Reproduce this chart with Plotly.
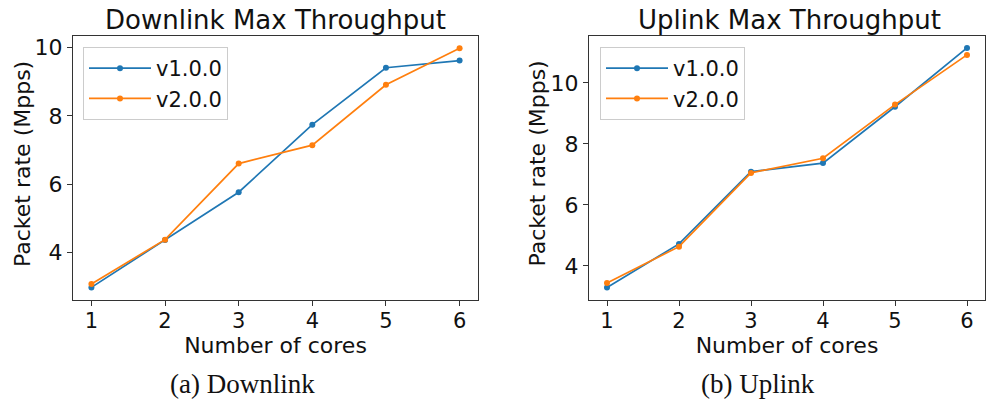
import plotly.graph_objects as go

cores = [1, 2, 3, 4, 5, 6]
down_v1 = [2.97, 4.36, 5.76, 7.74, 9.41, 9.62]
down_v2 = [3.07, 4.37, 6.60, 7.14, 8.91, 9.98]
up_v1 = [3.29, 4.72, 7.09, 7.37, 9.22, 11.15]
up_v2 = [3.44, 4.63, 7.05, 7.53, 9.29, 10.92]
series_names = ["v1.0.0", "v2.0.0"]
colors = ["#1f77b4", "#ff7f0e"]
titles = ["Downlink Max Throughput", "Uplink Max Throughput"]
captions = ["(a) Downlink", "(b) Uplink"]
x_title = "Number of cores"
y_title = "Packet rate (Mpps)"
x_ticks = [1, 2, 3, 4, 5, 6]
y_ticks = [4, 6, 8, 10]

W, H = 988, 405
fig = go.Figure()

panels = [(down_v1, down_v2, "x", "y", "legend"), (up_v1, up_v2, "x2", "y2", "legend2")]
for v1, v2, xa, ya, lg in panels:
    for vals, name, c in zip([v1, v2], series_names, colors):
        fig.add_trace(go.Scatter(
            x=cores, y=vals, name=name, mode="lines+markers",
            line=dict(color=c, width=1.7), marker=dict(color=c, size=6),
            xaxis=xa, yaxis=ya, legend=lg,
        ))

def px_x(p):
    return p / W

def px_y(p):
    return 1 - p / H

axis_common = dict(
    showgrid=False, zeroline=False, showline=True, mirror=True,
    linecolor="#333333", linewidth=1, ticks="outside", ticklen=5,
    tickwidth=1, tickcolor="#333333",
)
tick_font_x = dict(family="DejaVu Sans", size=21, color="#111111")
tick_font_y = dict(family="DejaVu Sans", size=22, color="#111111")
title_font = dict(family="DejaVu Sans", size=22, color="#111111")
legend_font = dict(family="DejaVu Sans", size=21, color="#111111")

fig.update_layout(
    width=W, height=H, margin=dict(l=0, r=0, t=0, b=0),
    paper_bgcolor="white", plot_bgcolor="white",
    xaxis=dict(domain=[px_x(73), px_x(478)], range=[0.75, 6.25], tickvals=x_ticks,
               tickfont=tick_font_x, anchor="y", ticklabelstandoff=-3,
               title=dict(text=x_title, font=title_font, standoff=2), **axis_common),
    yaxis=dict(domain=[px_y(300), px_y(36)], range=[2.60, 10.34], tickvals=y_ticks,
               tickfont=tick_font_y, anchor="x", **axis_common),
    xaxis2=dict(domain=[px_x(589), px_x(985)], range=[0.75, 6.25], tickvals=x_ticks,
                tickfont=tick_font_x, anchor="y2", ticklabelstandoff=-3,
                title=dict(text=x_title, font=title_font, standoff=2), **axis_common),
    yaxis2=dict(domain=[px_y(300), px_y(36)], range=[2.88, 11.54], tickvals=y_ticks,
                tickfont=tick_font_y, anchor="x2", **axis_common),
    legend=dict(x=px_x(83), y=px_y(47), xanchor="left", yanchor="top",
                bgcolor="rgba(255,255,255,0.8)", bordercolor="#cccccc", borderwidth=1,
                font=legend_font, itemwidth=62, tracegroupgap=0),
    legend2=dict(x=px_x(600), y=px_y(47), xanchor="left", yanchor="top",
                 bgcolor="rgba(255,255,255,0.8)", bordercolor="#cccccc", borderwidth=1,
                 font=legend_font, itemwidth=62, tracegroupgap=0),
    showlegend=True,
)

annotations = []
for t, cx in zip(titles, [275.5, 789]):
    annotations.append(dict(text=t, x=px_x(cx), y=px_y(20), xref="paper", yref="paper",
                            xanchor="center", yanchor="middle", showarrow=False,
                            font=dict(family="DejaVu Sans", size=26, color="#111111")))
for cx in [22, 536.5]:
    annotations.append(dict(text=y_title, x=px_x(cx), y=px_y(164), xref="paper", yref="paper",
                            xanchor="center", yanchor="middle", showarrow=False, textangle=-90,
                            font=title_font))
for t, cx in zip(captions, [242.5, 758]):
    annotations.append(dict(text=t, x=px_x(cx), y=px_y(384), xref="paper", yref="paper",
                            xanchor="center", yanchor="middle", showarrow=False,
                            font=dict(family="Liberation Serif", size=27, color="#111111")))
fig.update_layout(annotations=annotations)

fig.write_html("out.html", config={"displayModeBar": False},
               post_script="document.body.style.margin='0';")
